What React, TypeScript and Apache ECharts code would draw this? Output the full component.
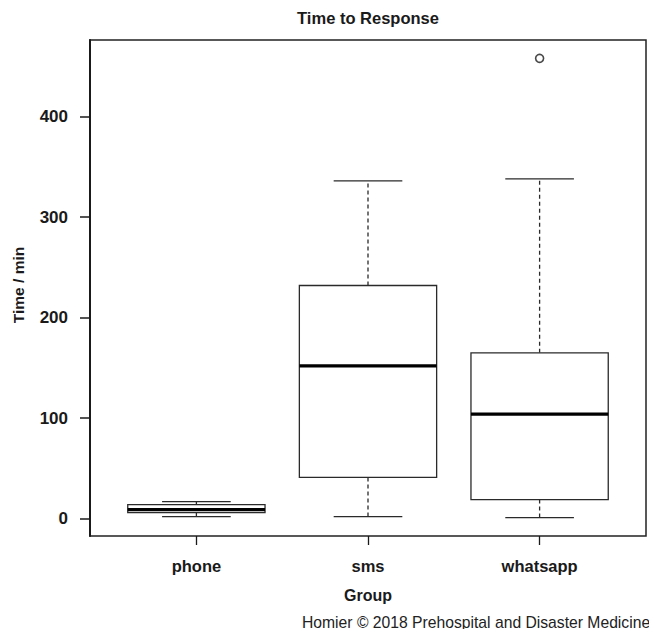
import React, { useEffect, useRef } from "react";
import * as echarts from "echarts";

const categories = ["phone", "sms", "whatsapp"];
const lowerWhisker = [2, 2, 1];
const q1 = [6, 41, 19];
const medians = [9, 152, 104];
const q3 = [14, 232, 165];
const upperWhisker = [17, 336, 338];
const outlierGroup = [3];
const outlierValue = [458];
const yTicks = [0, 100, 200, 300, 400];
const xTicks = [1, 2, 3];

const FONT = "'Liberation Sans', Arial, Helvetica, sans-serif";
const INK = "#1a1a1a";

export default function App() {
  const ref = useRef<HTMLDivElement>(null);

  useEffect(() => {
    if (!ref.current) return;
    const chart = echarts.init(ref.current, null, { renderer: "svg" });

    const boxData = categories.map((_, i) => [
      i + 1,
      lowerWhisker[i],
      q1[i],
      medians[i],
      q3[i],
      upperWhisker[i],
    ]);
    const outliers = outlierGroup.map((g, i) => [g, outlierValue[i]]);

    const lineStyle = { stroke: "#2a2a2a", lineWidth: 1.3 };

    const renderItem = (params: any, api: any) => {
      const x = api.value(0);
      const lo = api.value(1);
      const b1 = api.value(2);
      const md = api.value(3);
      const b3 = api.value(4);
      const hi = api.value(5);
      const half = 0.4;
      const cap = 0.2;
      const tl = api.coord([x - half, b3]);
      const br = api.coord([x + half, b1]);
      const mL = api.coord([x - half, md]);
      const mR = api.coord([x + half, md]);
      const cTop = api.coord([x, b3]);
      const cHi = api.coord([x, hi]);
      const cBot = api.coord([x, b1]);
      const cLo = api.coord([x, lo]);
      const hiL = api.coord([x - cap, hi]);
      const hiR = api.coord([x + cap, hi]);
      const loL = api.coord([x - cap, lo]);
      const loR = api.coord([x + cap, lo]);
      return {
        type: "group",
        children: [
          {
            type: "line",
            shape: { x1: cTop[0], y1: cTop[1], x2: cHi[0], y2: cHi[1] },
            style: { ...lineStyle, lineDash: [4, 3] },
          },
          {
            type: "line",
            shape: { x1: cBot[0], y1: cBot[1], x2: cLo[0], y2: cLo[1] },
            style: { ...lineStyle, lineDash: [4, 3] },
          },
          {
            type: "line",
            shape: { x1: hiL[0], y1: hiL[1], x2: hiR[0], y2: hiR[1] },
            style: { ...lineStyle },
          },
          {
            type: "line",
            shape: { x1: loL[0], y1: loL[1], x2: loR[0], y2: loR[1] },
            style: { ...lineStyle },
          },
          {
            type: "rect",
            shape: {
              x: tl[0],
              y: tl[1],
              width: br[0] - tl[0],
              height: br[1] - tl[1],
            },
            style: { fill: "#ffffff", stroke: "#2a2a2a", lineWidth: 1.3 },
          },
          {
            type: "line",
            shape: { x1: mL[0], y1: mL[1], x2: mR[0], y2: mR[1] },
            style: { stroke: "#000000", lineWidth: 3.2 },
          },
        ],
      };
    };

    chart.setOption({
      animation: false,
      grid: {
        left: 90,
        right: 3,
        top: 40,
        bottom: 93,
        show: true,
        borderColor: "#222",
        borderWidth: 1.5,
        backgroundColor: "transparent",
      },
      xAxis: {
        type: "value",
        position: "bottom",
        min: 0.38,
        max: 3.62,
        splitLine: { show: false },
        axisLine: { show: false, onZero: false },
        axisTick: {
          show: true,
          customValues: xTicks,
          length: 9,
          lineStyle: { color: INK, width: 1.3 },
        },
        axisLabel: {
          customValues: xTicks,
          margin: 21,
          formatter: (v: number) => categories[Math.round(v) - 1] ?? "",
          fontFamily: FONT,
          fontWeight: "bold",
          fontSize: 16.5,
          color: INK,
        },
      },
      yAxis: {
        type: "value",
        position: "left",
        min: -17.28,
        max: 476.28,
        splitLine: { show: false },
        axisLine: { show: true, onZero: false, lineStyle: { color: INK, width: 2 } },
        axisTick: {
          show: true,
          customValues: yTicks,
          length: 10,
          lineStyle: { color: INK, width: 1.5 },
        },
        axisLabel: {
          customValues: yTicks,
          margin: 22,
          fontFamily: FONT,
          fontWeight: "bold",
          fontSize: 17,
          color: INK,
        },
      },
      series: [
        {
          type: "custom",
          renderItem,
          encode: { x: 0, y: [1, 2, 3, 4, 5] },
          data: boxData,
          z: 2,
        },
        {
          type: "scatter",
          data: outliers,
          symbol: "circle",
          symbolSize: 8,
          itemStyle: {
            color: "#ffffff",
            borderColor: "#1a1a1a",
            borderWidth: 1.6,
          },
          z: 3,
        },
      ],
      graphic: [
        {
          type: "text",
          x: 368,
          y: 18,
          style: {
            text: "Time to Response",
            font: `bold 16.5px ${FONT}`,
            fill: INK,
            align: "center",
            verticalAlign: "middle",
          },
        },
        {
          type: "text",
          x: 18,
          y: 285,
          rotation: Math.PI / 2,
          style: {
            text: "Time / min",
            font: `bold 15.5px ${FONT}`,
            fill: INK,
            align: "center",
            verticalAlign: "middle",
          },
        },
        {
          type: "text",
          x: 368,
          y: 595,
          style: {
            text: "Group",
            font: `bold 16px ${FONT}`,
            fill: INK,
            align: "center",
            verticalAlign: "middle",
          },
        },
        {
          type: "text",
          x: 302,
          y: 622,
          style: {
            text: "Homier © 2018 Prehospital and Disaster Medicine",
            font: `15.7px ${FONT}`,
            fill: "#222",
            align: "left",
            verticalAlign: "middle",
          },
        },
      ],
    });

    return () => chart.dispose();
  }, []);

  return (
    <div
      ref={ref}
      style={{
        position: "fixed",
        left: 0,
        top: 0,
        width: 649,
        height: 629,
        background: "#ffffff",
      }}
    />
  );
}
